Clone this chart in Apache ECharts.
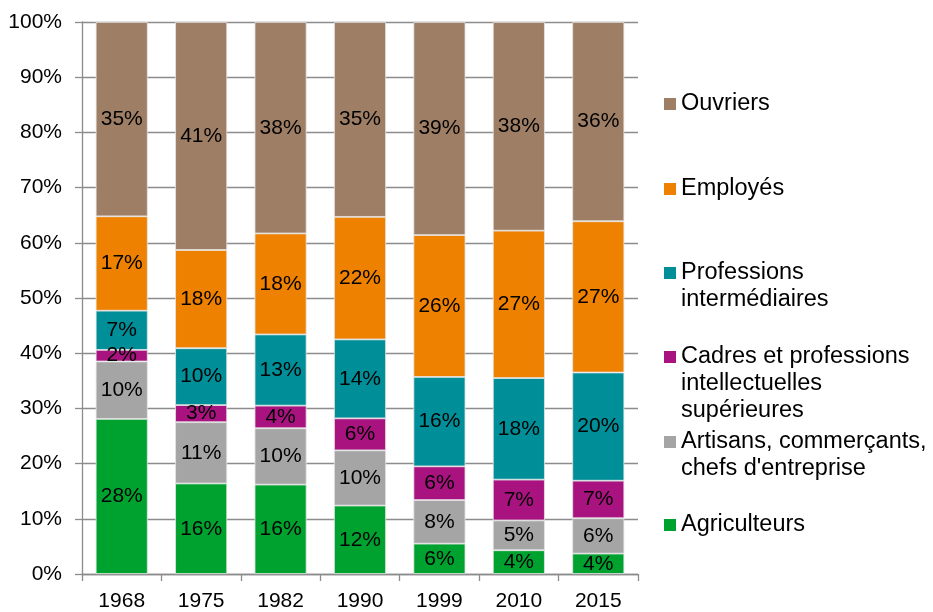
<!DOCTYPE html>
<html>
<head>
<meta charset="utf-8">
<script src="https://cdn.jsdelivr.net/npm/echarts@6/dist/echarts.min.js"></script>
<style>
  html, body { margin: 0; padding: 0; background: #fff; }
  #chart { width: 933px; height: 612px; }
</style>
</head>
<body>
<div id="chart"></div>
<script>
// Census years
const years = ['1968', '1975', '1982', '1990', '1999', '2010', '2015'];

// Share of each socio-professional group (% of the employed population)
const agriculteurs = [28.1, 16.4, 16.2, 12.4, 5.5, 4.3, 3.7];
const artisans     = [10.4, 11.1, 10.2, 10.0, 7.9, 5.4, 6.4];
const cadres       = [2.1, 3.1, 4.1, 5.8, 6.1, 7.4, 6.8];
const profInter    = [7.1, 10.3, 12.9, 14.3, 16.2, 18.4, 19.6];
const employes     = [17.1, 17.8, 18.3, 22.2, 25.7, 26.7, 27.4];
const ouvriers     = [35.2, 41.3, 38.3, 35.3, 38.6, 37.8, 36.1];

// Y axis ticks
const yTicks = [0, 10, 20, 30, 40, 50, 60, 70, 80, 90, 100];

const FONT = "'Liberation Sans', Arial, Helvetica, sans-serif";

// Series from bottom to top of each stack
const groups = [
  { name: 'Agriculteurs', data: agriculteurs, color: '#00A22F', lines: ['Agriculteurs'] },
  { name: 'Artisans, commerçants, chefs d\'entreprise', data: artisans, color: '#A5A5A5', lines: ['Artisans, commerçants,', 'chefs d\'entreprise'] },
  { name: 'Cadres et professions intellectuelles supérieures', data: cadres, color: '#A8137F', lines: ['Cadres et professions', 'intellectuelles', 'supérieures'] },
  { name: 'Professions intermédiaires', data: profInter, color: '#008F99', lines: ['Professions', 'intermédiaires'] },
  { name: 'Employés', data: employes, color: '#EE8100', lines: ['Employés'] },
  { name: 'Ouvriers', data: ouvriers, color: '#9E7E65', lines: ['Ouvriers'] }
];

// Legend entries listed top to bottom, each anchored by its icon centre
const legendIconCenters = {
  'Ouvriers': 104,
  'Employés': 189,
  'Professions intermédiaires': 273,
  'Cadres et professions intellectuelles supérieures': 357,
  'Artisans, commerçants, chefs d\'entreprise': 442,
  'Agriculteurs': 525
};

const LINE_H = 27;
const ICON = 12;

// The legend centres its text on the icon; blank lines above a wrapped
// name keep the icon level with the first line.
const legends = groups.slice().reverse().map(g => {
  const n = g.lines.length;
  const blanks = new Array(n - 1).fill('\u00a0');
  const boxH = (2 * n - 1) * LINE_H;
  return {
    orient: 'vertical',
    left: 664,
    top: legendIconCenters[g.name] - boxH / 2,
    padding: 0,
    itemWidth: ICON,
    itemHeight: ICON,
    icon: 'rect',
    itemStyle: { borderWidth: 0 },
    selectedMode: false,
    data: [g.name],
    formatter: () => blanks.concat(g.lines).join('\n'),
    textStyle: {
      fontFamily: FONT,
      fontSize: 23.5,
      lineHeight: LINE_H,
      color: '#000'
    }
  };
});

const series = groups.map(g => ({
  name: g.name,
  type: 'bar',
  stack: 'total',
  barWidth: 52,
  data: g.data,
  itemStyle: { color: g.color, borderColor: '#e4e4e4', borderWidth: 0.8 },
  label: {
    show: true,
    position: 'inside',
    formatter: p => Math.round(p.value) + '%',
    fontFamily: FONT,
    fontSize: 21,
    color: '#000'
  },
  emphasis: { disabled: true }
}));

const chart = echarts.init(document.getElementById('chart'), null, { renderer: 'canvas' });
chart.setOption({
  animation: false,
  backgroundColor: '#fff',
  grid: { left: 82, right: 295, top: 22, bottom: 36, containLabel: false },
  legend: legends,
  xAxis: {
    type: 'category',
    data: years,
    axisLine: { lineStyle: { color: '#8c8c8c', width: 1.3 } },
    axisTick: { show: true, length: 7, lineStyle: { color: '#8c8c8c', width: 1.3 } },
    axisLabel: { fontFamily: FONT, fontSize: 21, color: '#000', margin: 17 }
  },
  yAxis: {
    type: 'value',
    min: yTicks[0],
    max: yTicks[yTicks.length - 1],
    interval: yTicks[1] - yTicks[0],
    axisLine: { show: true, lineStyle: { color: '#8c8c8c', width: 1.3 } },
    axisTick: { show: true, length: 7, lineStyle: { color: '#8c8c8c', width: 1.3 } },
    splitLine: { show: true, lineStyle: { color: '#8c8c8c', width: 1.3 } },
    axisLabel: { fontFamily: FONT, fontSize: 21, color: '#000', margin: 20, formatter: '{value}%' }
  },
  series: series
});
</script>
</body>
</html>
